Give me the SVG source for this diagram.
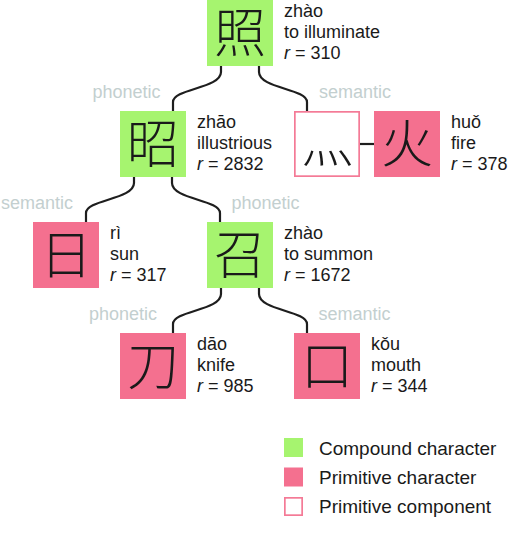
<svg xmlns="http://www.w3.org/2000/svg" width="509" height="547" viewBox="0 0 509 547">
<style>
.cmp{fill:#a6f46f}
.pri{fill:#f4708f}
.com{fill:#ffffff;stroke:#f47a96;stroke-width:1.7}
.han{font-family:"Noto Sans CJK SC","Noto Sans CJK JP",sans-serif;font-size:52px;font-weight:300;fill:#1a1a1a;text-anchor:middle}
.lbl{font-family:"Liberation Sans",Arial,sans-serif;font-size:18px;fill:#1a1a1a}
.rel{font-family:"Liberation Sans",Arial,sans-serif;font-size:18px;fill:#c3cfcf}
.leg{font-family:"Liberation Sans",Arial,sans-serif;font-size:19px;fill:#1a1a1a}
.edge{fill:none;stroke:#1e1e1e;stroke-width:2.2}
.it{font-style:italic}
</style>
<rect width="509" height="547" fill="#ffffff"/>
<g id="connectors">
<path class="edge" d="M221 66 V72 C221 88.5 173 88.5 173 102 V111"/>
<path class="edge" d="M259 66 V72 C259 88.5 307 88.5 307 102 V111"/>
<path class="edge" d="M134 177 V183 C134 199.5 86 199.5 86 213 V222"/>
<path class="edge" d="M172 177 V183 C172 199.5 220 199.5 220 213 V222"/>
<path class="edge" d="M221 288 V294 C221 310.5 173 310.5 173 324 V333"/>
<path class="edge" d="M259 288 V294 C259 310.5 307 310.5 307 324 V333"/>
<path class="edge" d="M360 144 H374"/>
</g>
<g id="relations">
<text class="rel" x="92.5" y="98">phonetic</text>
<text class="rel" x="319" y="98">semantic</text>
<text class="rel" x="1" y="209">semantic</text>
<text class="rel" x="231.5" y="209">phonetic</text>
<text class="rel" x="89" y="320">phonetic</text>
<text class="rel" x="318.5" y="320">semantic</text>
</g>
<g id="node-zhao4-illuminate">
<rect class="cmp" x="207" y="0" width="66" height="66"/>
<text class="han" x="240" y="52">照</text>
<text class="lbl" x="284" y="17">zhào</text>
<text class="lbl" x="284" y="38">to illuminate</text>
<text class="lbl" x="284" y="59"><tspan class="it">r</tspan> = 310</text>
</g>
<g id="node-zhao1-illustrious">
<rect class="cmp" x="120" y="111" width="66" height="66"/>
<text class="han" x="153" y="163">昭</text>
<text class="lbl" x="197" y="128">zhāo</text>
<text class="lbl" x="197" y="149">illustrious</text>
<text class="lbl" x="197" y="170"><tspan class="it">r</tspan> = 2832</text>
</g>
<g id="node-fire-component">
<rect class="com" x="294.85" y="111.85" width="64.3" height="64.3"/>
<text class="han" x="327" y="163">灬</text>
</g>
<g id="node-huo-fire">
<rect class="pri" x="374" y="111" width="66" height="66"/>
<text class="han" x="407" y="163">火</text>
<text class="lbl" x="451" y="128">huǒ</text>
<text class="lbl" x="451" y="149">fire</text>
<text class="lbl" x="451" y="170"><tspan class="it">r</tspan> = 378</text>
</g>
<g id="node-ri-sun">
<rect class="pri" x="33" y="222" width="66" height="66"/>
<text class="han" x="66" y="274">日</text>
<text class="lbl" x="110" y="239">rì</text>
<text class="lbl" x="110" y="260">sun</text>
<text class="lbl" x="110" y="281"><tspan class="it">r</tspan> = 317</text>
</g>
<g id="node-zhao4-summon">
<rect class="cmp" x="207" y="222" width="66" height="66"/>
<text class="han" x="240" y="274">召</text>
<text class="lbl" x="284" y="239">zhào</text>
<text class="lbl" x="284" y="260">to summon</text>
<text class="lbl" x="284" y="281"><tspan class="it">r</tspan> = 1672</text>
</g>
<g id="node-dao-knife">
<rect class="pri" x="120" y="333" width="66" height="66"/>
<text class="han" x="153" y="385">刀</text>
<text class="lbl" x="197" y="350">dāo</text>
<text class="lbl" x="197" y="371">knife</text>
<text class="lbl" x="197" y="392"><tspan class="it">r</tspan> = 985</text>
</g>
<g id="node-kou-mouth">
<rect class="pri" x="294" y="333" width="66" height="66"/>
<text class="han" x="327" y="385">口</text>
<text class="lbl" x="371" y="350">kǒu</text>
<text class="lbl" x="371" y="371">mouth</text>
<text class="lbl" x="371" y="392"><tspan class="it">r</tspan> = 344</text>
</g>
<g id="legend">
<rect class="cmp" x="284" y="438" width="19" height="19"/>
<text class="leg" x="319" y="455">Compound character</text>
<rect class="pri" x="284" y="467.5" width="19" height="19"/>
<text class="leg" x="319" y="484">Primitive character</text>
<rect class="com" x="284.85" y="497.85" width="17.3" height="17.3"/>
<text class="leg" x="319" y="512.5">Primitive component</text>
</g>
</svg>
